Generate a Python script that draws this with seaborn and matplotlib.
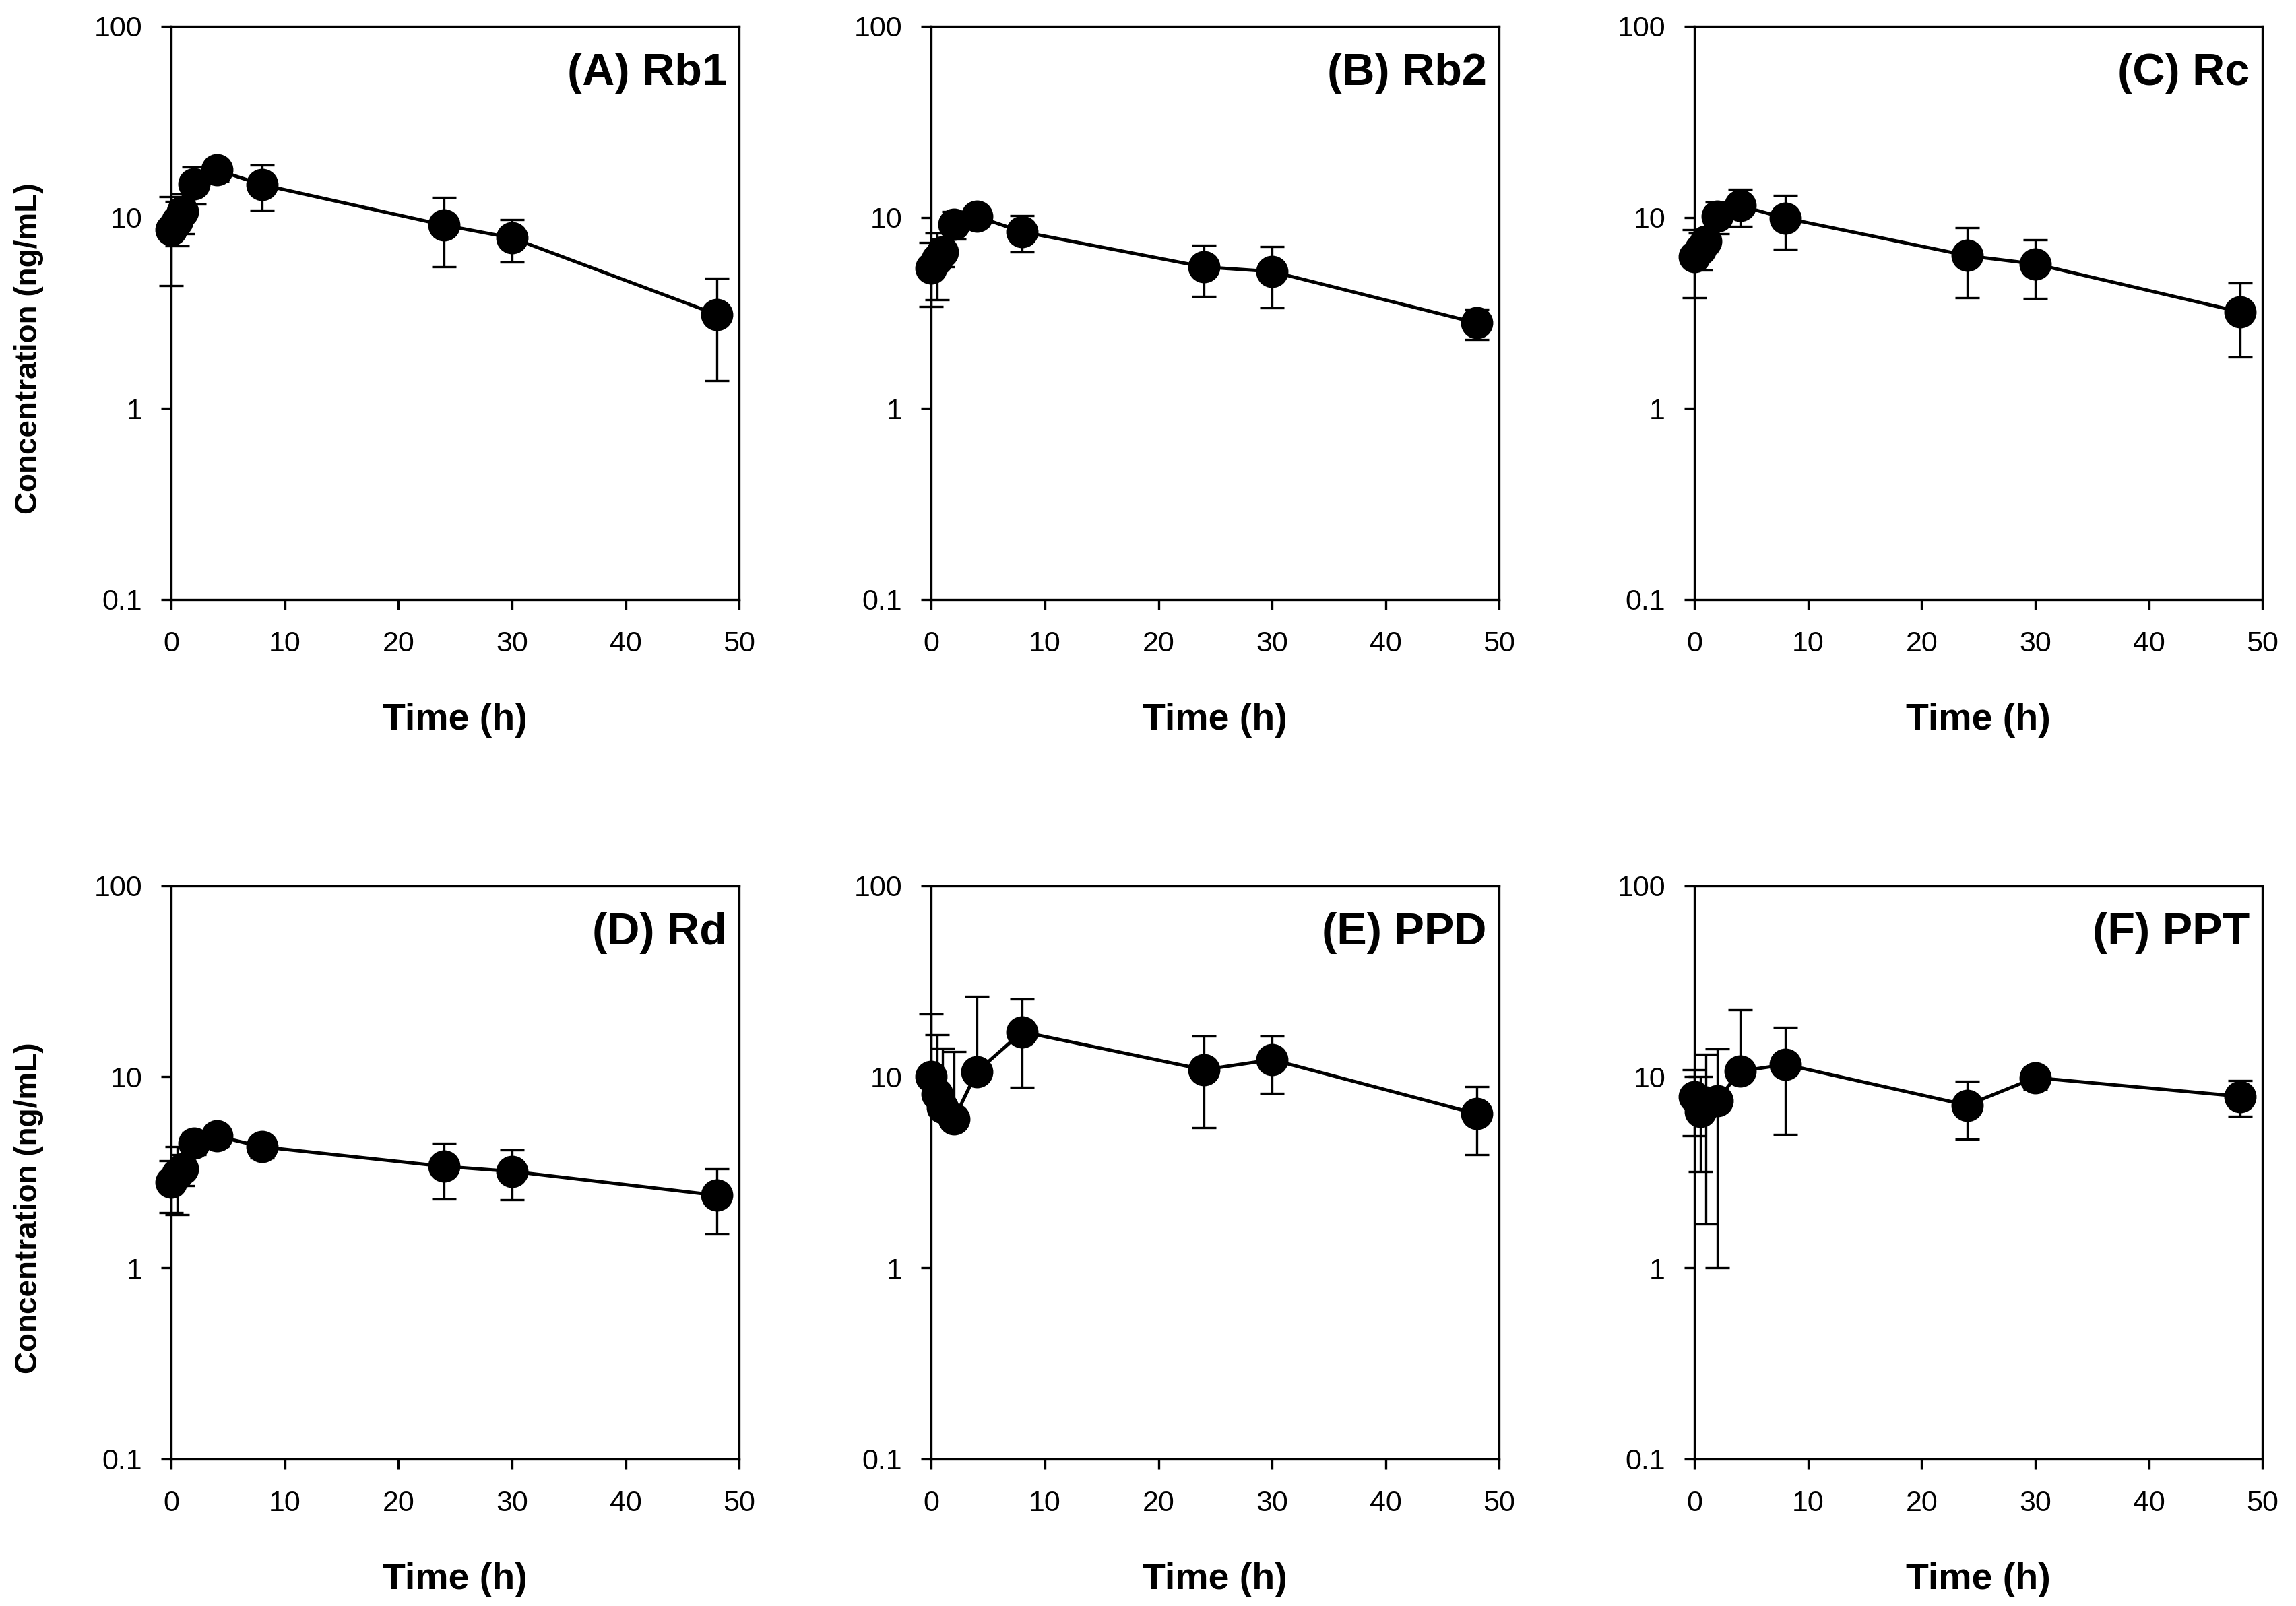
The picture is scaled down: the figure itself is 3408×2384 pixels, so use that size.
import numpy as np
import pandas as pd
import matplotlib
matplotlib.use('Agg')
import matplotlib.pyplot as plt
from matplotlib.ticker import NullLocator
import seaborn as sns

# sampling times (h)
time_h = [0, 0.5, 1, 2, 4, 8, 24, 30, 48]

# mean and SD of plasma concentration (ng/mL)
rb1_mean = [8.6, 9.6, 10.7, 15.0, 17.7, 14.8, 9.1, 7.8, 3.1]
rb1_sd = [4.2, 2.5, 2.5, 3.3, 2.2, 3.9, 3.6, 1.95, 1.7]

rb2_mean = [5.4, 6.0, 6.6, 9.2, 10.1, 8.4, 5.5, 5.2, 2.8]
rb2_sd = [2.0, 2.3, 1.1, 1.5, 1.1, 1.8, 1.65, 1.85, 0.5]

rc_mean = [6.2, 6.8, 7.5, 10.1, 11.5, 9.9, 6.3, 5.7, 3.2]
rc_sd = [2.4, 1.5, 0.9, 1.9, 2.5, 3.1, 2.5, 1.95, 1.35]

rd_mean = [2.8, 3.1, 3.3, 4.5, 4.9, 4.3, 3.4, 3.2, 2.4]
rd_sd = [0.85, 1.2, 0.6, 0.6, 0.6, 0.55, 1.1, 0.93, 0.9]

ppd_mean = [10.0, 8.1, 6.9, 6.0, 10.6, 17.2, 10.9, 12.3, 6.4]
ppd_sd = [11.3, 8.5, 7.2, 7.6, 15.8, 8.4, 5.5, 4.1, 2.5]

ppt_mean = [7.9, 6.6, 7.4, 7.5, 10.7, 11.6, 7.1, 9.9, 7.9]
ppt_sd = [3.0, 3.4, 5.7, 6.5, 11.7, 6.6, 2.4, 1.3, 1.7]

labels = ['(A) Rb1', '(B) Rb2', '(C) Rc', '(D) Rd', '(E) PPD', '(F) PPT']
means = [rb1_mean, rb2_mean, rc_mean, rd_mean, ppd_mean, ppt_mean]
sds = [rb1_sd, rb2_sd, rc_sd, rd_sd, ppd_sd, ppt_sd]

sns.set_theme(style='ticks')
plt.rcParams['font.family'] = ['Liberation Sans', 'DejaVu Sans']
plt.rcParams['text.color'] = 'black'
plt.rcParams['axes.labelcolor'] = 'black'
plt.rcParams['xtick.color'] = 'black'
plt.rcParams['ytick.color'] = 'black'

fig = plt.figure(figsize=(17.04, 11.92), dpi=200)

lefts = [0.0746, 0.4056, 0.738]
bottoms = [0.6267, 0.0915]
w, h = 0.2474, 0.357

for i in range(6):
    row, col = divmod(i, 3)
    ax = fig.add_axes([lefts[col], bottoms[row], w, h])
    df = pd.DataFrame({'time': time_h, 'conc': means[i], 'sd': sds[i]})

    # lower bar is not drawn when mean - SD falls below zero (log axis)
    lower = np.where(df['conc'] - df['sd'] > 0, df['sd'], 0)
    ax.errorbar(df['time'], df['conc'], yerr=[lower, df['sd']], fmt='none',
                ecolor='black', elinewidth=1.2, capsize=6.5, capthick=1.2,
                clip_on=False, zorder=2)
    sns.lineplot(data=df, x='time', y='conc', ax=ax, color='black',
                 linewidth=1.8, marker='o', markersize=16.5, markeredgecolor='black',
                 clip_on=False, zorder=3, errorbar=None)

    ax.set_yscale('log')
    ax.set_ylim(0.1, 100)
    ax.set_xlim(0, 50)
    ax.set_yticks([0.1, 1, 10, 100])
    ax.set_yticklabels(['0.1', '1', '10', '100'])
    ax.yaxis.set_minor_locator(NullLocator())
    ax.set_xticks(range(0, 51, 10))
    ax.tick_params(direction='out', length=5.5, width=1.2, labelsize=15.5)
    ax.tick_params(axis='y', pad=10)
    ax.tick_params(axis='x', pad=11)
    for s in ax.spines.values():
        s.set_linewidth(1.2)
        s.set_color('black')

    ax.set_xlabel('Time (h)', fontsize=20, fontweight='bold')
    ax.xaxis.set_label_coords(0.5, -0.18)
    if col == 0:
        ax.set_ylabel('Concentration (ng/mL)', fontsize=16.5, fontweight='bold')
        ax.yaxis.set_label_coords(-0.225, 0.438)
    else:
        ax.set_ylabel('')

    ax.text(0.978, 0.918, labels[i], transform=ax.transAxes, ha='right',
            va='center', fontsize=24, fontweight='bold')

fig.savefig('out.png', dpi=200, facecolor='white')
